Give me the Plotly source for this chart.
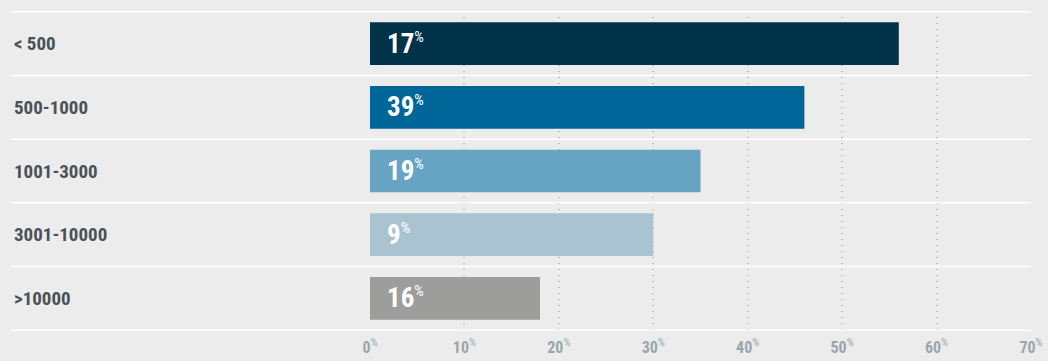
import plotly.graph_objects as go

categories = ["< 500", "500-1000", "1001-3000", "3001-10000", ">10000"]
bar_values = [56, 46, 35, 30, 18]
label_values = [17, 39, 19, 9, 16]
bar_colors = ["#00324a", "#006699", "#67a3c2", "#a9c3d0", "#9d9d9b"]
tick_values = [0, 10, 20, 30, 40, 50, 60, 70]

FONT = "Roboto Condensed, Liberation Sans Narrow, Arial Narrow, DejaVu Sans Condensed, sans-serif"
BG = "#ececec"

fig = go.Figure()
fig.add_trace(go.Bar(
    y=categories, x=bar_values, orientation="h",
    marker=dict(color=bar_colors, line=dict(width=0)),
    width=0.67, hoverinfo="skip",
))

L, R, T, B = 370, 17, 11, 30
W, H = 1048, 361
pw = W - L - R
left_paper = (12 - L) / pw
line_left = (11 - L) / pw

annotations = []
for cat, lv in zip(categories, label_values):
    annotations.append(dict(
        x=left_paper, xref="paper", y=cat, yref="y",
        text=f"<b>{cat}</b>", showarrow=False, xanchor="left", yanchor="middle",
        font=dict(family=FONT, size=19, color="#4a5257"),
    ))
    annotations.append(dict(
        x=0, xref="x", y=cat, yref="y",
        text=f"<b>{lv}</b><sup><span style='font-size:15px'>%</span></sup>",
        showarrow=False, xanchor="left", yanchor="middle", xshift=15, yshift=0,
        font=dict(family=FONT, size=27, color="#ffffff"),
    ))

shapes = []
for i in range(len(categories) + 1):
    yv = i - 0.5
    shapes.append(dict(
        type="line", xref="paper", yref="y", x0=line_left, x1=1.0, y0=yv, y1=yv,
        line=dict(color="#ffffff", width=1.5), layer="above",
    ))

fig.update_layout(
    width=W, height=H,
    margin=dict(l=L, r=R, t=T, b=B, pad=0, autoexpand=False),
    paper_bgcolor=BG, plot_bgcolor=BG,
    showlegend=False, bargap=0.33,
    annotations=annotations, shapes=shapes,
    xaxis=dict(
        range=[0, 70], tickvals=tick_values,
        ticktext=[f"<b>{v}</b><sup>%</sup>" for v in tick_values],
        showgrid=True, gridcolor="#bdbdbd", griddash="1px,5px", gridwidth=1.5,
        zeroline=False, showline=False, ticks="", ticklabelstandoff=5,
        tickfont=dict(family=FONT, size=16, color="#9aa6ad"),
        fixedrange=True, automargin=False,
    ),
    yaxis=dict(
        categoryorder="array", categoryarray=categories, autorange="reversed",
        range=[4.5, -0.5], showticklabels=False, showgrid=False, zeroline=False,
        fixedrange=True, automargin=False,
    ),
)

fig.write_html(
    "out.html",
    config={"displayModeBar": False},
    post_script="document.body.style.margin='0';document.body.style.overflow='hidden';"
                "document.body.style.background='#ececec';",
)
